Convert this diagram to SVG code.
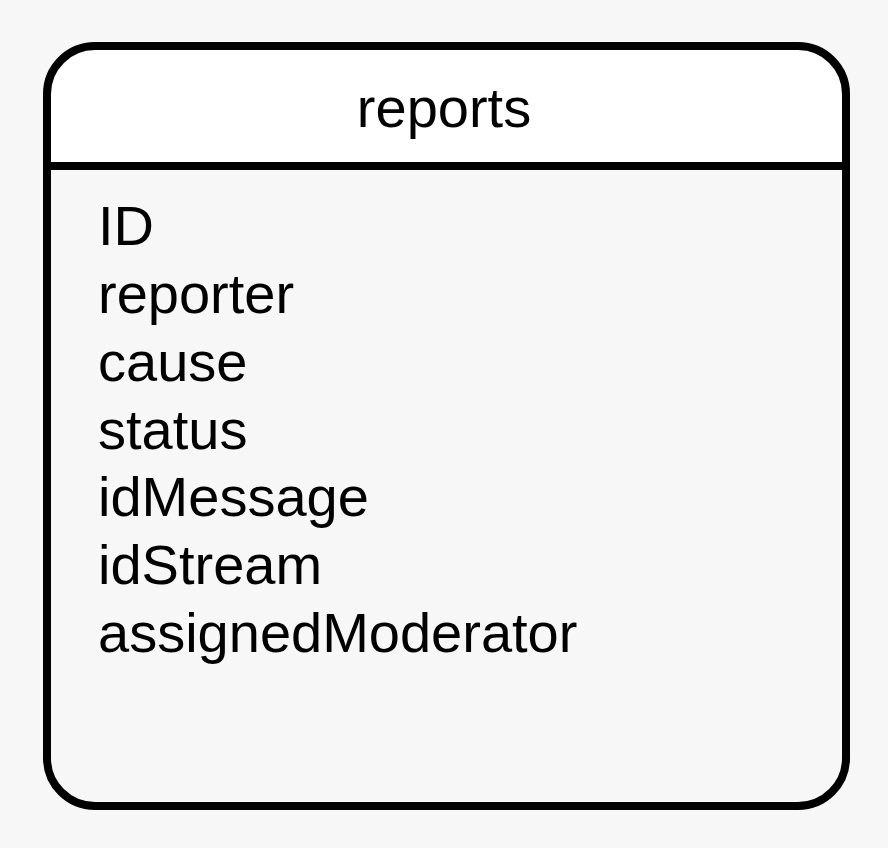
<svg xmlns="http://www.w3.org/2000/svg" width="888" height="848" viewBox="0 0 888 848">
<style>
.t{font-family:"Liberation Sans",Arial,sans-serif;font-size:56px;fill:#000}
.s{fill:none;stroke:#000;stroke-width:8}
</style>
<rect width="888" height="848" fill="#f7f7f7"/>
<g id="reports">
<path d="M47,166 V94 A48,48 0 0 1 95,46 H798 A48,48 0 0 1 846,94 V166 Z" fill="#ffffff"/>
<rect class="s" x="47" y="46" width="799" height="760" rx="48" ry="48"/>
<line class="s" x1="47" y1="166" x2="846" y2="166"/>
<text class="t" x="444" y="127" text-anchor="middle">reports</text>
<text class="t" x="98" y="245">ID</text>
<text class="t" x="98" y="313">reporter</text>
<text class="t" x="98" y="381">cause</text>
<text class="t" x="98" y="449">status</text>
<text class="t" x="98" y="516">idMessage</text>
<text class="t" x="98" y="584">idStream</text>
<text class="t" x="98" y="652">assignedModerator</text>
</g>
<g id="connectors"/>
</svg>
